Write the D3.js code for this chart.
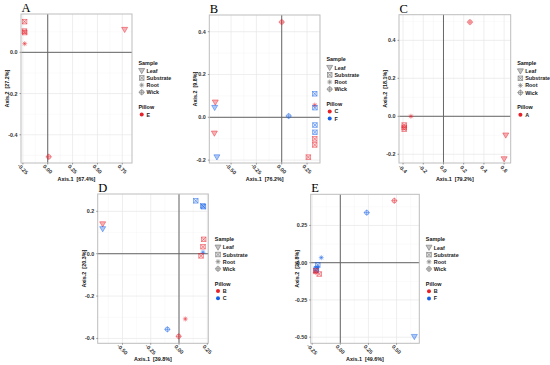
<!DOCTYPE html>
<html><head><meta charset="utf-8">
<script src="https://cdn.jsdelivr.net/npm/d3@7"></script>
<style>body{margin:0;background:#fff} text{font-family:"Liberation Sans",Arial,sans-serif}</style>
</head><body><svg id="c" width="550" height="365"></svg>
<script>
// ---------- DATA ----------
const sampleTypes = ["Leaf", "Substrate", "Root", "Wick"];

const pillowsA = ["E"];
const pointsA = [
  {s:"Substrate", p:"E", x:-0.233, y:0.149},
  {s:"Substrate", p:"E", x:-0.235, y:0.103},
  {s:"Substrate", p:"E", x:-0.232, y:0.096},
  {s:"Root",      p:"E", x:-0.232, y:0.042},
  {s:"Leaf",      p:"E", x:0.774,  y:0.110},
  {s:"Wick",      p:"E", x:0.010,  y:-0.507}
];
const pillowsB = ["C", "F"];
const pointsB = [
  {s:"Wick",      p:"C", x:0.000,  y:0.445},
  {s:"Substrate", p:"F", x:0.326,  y:0.110},
  {s:"Root",      p:"C", x:0.326,  y:0.057},
  {s:"Substrate", p:"F", x:0.328,  y:0.045},
  {s:"Wick",      p:"F", x:0.069,  y:0.006},
  {s:"Substrate", p:"F", x:0.328,  y:-0.036},
  {s:"Substrate", p:"F", x:0.328,  y:-0.070},
  {s:"Substrate", p:"C", x:0.326,  y:-0.101},
  {s:"Substrate", p:"C", x:0.326,  y:-0.129},
  {s:"Substrate", p:"C", x:0.263,  y:-0.186},
  {s:"Leaf",      p:"C", x:-0.656, y:0.070},
  {s:"Leaf",      p:"F", x:-0.662, y:0.045},
  {s:"Leaf",      p:"C", x:-0.665, y:-0.075},
  {s:"Leaf",      p:"F", x:-0.640, y:-0.186}
];
const pillowsC = ["A"];
const pointsC = [
  {s:"Wick",      p:"A", x:0.262,  y:0.496},
  {s:"Root",      p:"A", x:-0.322, y:0.000},
  {s:"Substrate", p:"A", x:-0.388, y:-0.046},
  {s:"Substrate", p:"A", x:-0.388, y:-0.058},
  {s:"Substrate", p:"A", x:-0.388, y:-0.068},
  {s:"Leaf",      p:"A", x:0.616,  y:-0.100},
  {s:"Leaf",      p:"A", x:0.600,  y:-0.225}
];
const pillowsD = ["B", "C"];
const pointsD = [
  {s:"Substrate", p:"C", x:0.148,  y:0.250},
  {s:"Substrate", p:"C", x:0.210,  y:0.226},
  {s:"Substrate", p:"C", x:0.216,  y:0.222},
  {s:"Leaf",      p:"B", x:-0.675, y:0.140},
  {s:"Leaf",      p:"C", x:-0.675, y:0.117},
  {s:"Substrate", p:"B", x:0.218,  y:0.068},
  {s:"Substrate", p:"B", x:0.212,  y:0.033},
  {s:"Root",      p:"C", x:0.212,  y:0.007},
  {s:"Substrate", p:"B", x:0.195,  y:-0.010},
  {s:"Root",      p:"B", x:0.056,  y:-0.308},
  {s:"Wick",      p:"C", x:-0.103, y:-0.357},
  {s:"Wick",      p:"B", x:-0.003, y:-0.390}
];
const pillowsE = ["B", "F"];
const pointsE = [
  {s:"Wick",      p:"B", x:0.480,  y:0.416},
  {s:"Wick",      p:"F", x:0.235,  y:0.336},
  {s:"Root",      p:"F", x:-0.169, y:0.034},
  {s:"Substrate", p:"B", x:-0.187, y:-0.076},
  {s:"Substrate", p:"F", x:-0.200, y:-0.015},
  {s:"Root",      p:"F", x:-0.205, y:-0.030},
  {s:"Substrate", p:"F", x:-0.212, y:-0.040},
  {s:"Substrate", p:"F", x:-0.215, y:-0.050},
  {s:"Substrate", p:"B", x:-0.218, y:-0.055},
  {s:"Root",      p:"B", x:-0.222, y:-0.065},
  {s:"Leaf",      p:"F", x:0.658,  y:-0.497}
];

const xTicksA = [-0.25, 0, 0.25, 0.5, 0.75], yTicksA = [-0.4, -0.2, 0.0];
const xTicksB = [-0.5, -0.25, 0, 0.25],      yTicksB = [-0.2, 0, 0.2, 0.4];
const xTicksC = [-0.4, -0.2, 0, 0.2, 0.4, 0.6], yTicksC = [-0.2, 0, 0.2, 0.4];
const xTicksD = [-0.5, -0.25, 0, 0.25],      yTicksD = [-0.4, -0.2, 0, 0.2];
const xTicksE = [-0.25, 0, 0.25, 0.5],       yTicksE = [-0.5, -0.25, 0, 0.25];

const axisTitles1 = ["Axis.1  [67.4%]", "Axis.1  [76.2%]", "Axis.1  [79.2%]", "Axis.1  [39.8%]", "Axis.1  [49.6%]"];
const axisTitles2 = ["Axis.2  [27.2%]", "Axis.2  [9.8%]", "Axis.2  [18.1%]", "Axis.2  [20.3%]", "Axis.2  [26.8%]"];
const panelLetters = ["A", "B", "C", "D", "E"];

// ---------- LAYOUT ----------
const layout = [
  {l:21,    t:14,    r:132,   b:163,   xd:[-0.269, 0.848], yd:[-0.537, 0.186], xf:2, yf:1},
  {l:209.3, t:15,    r:320,   b:163,   xd:[-0.715, 0.378], yd:[-0.2135, 0.478], xf:2, yf:1},
  {l:399,   t:14.7,  r:510.7, b:163,   xd:[-0.44, 0.665],  yd:[-0.246, 0.535], xf:1, yf:1},
  {l:97.7,  t:194,   r:208.3, b:343.3, xd:[-0.719, 0.259], yd:[-0.423, 0.282], xf:2, yf:1},
  {l:310.7, t:194.3, r:419.3, b:343.3, xd:[-0.263, 0.702], yd:[-0.541, 0.459], xf:2, yf:2}
];
const panels = [
  {pts:pointsA, pil:pillowsA, xt:xTicksA, yt:yTicksA},
  {pts:pointsB, pil:pillowsB, xt:xTicksB, yt:yTicksB},
  {pts:pointsC, pil:pillowsC, xt:xTicksC, yt:yTicksC},
  {pts:pointsD, pil:pillowsD, xt:xTicksD, yt:yTicksD},
  {pts:pointsE, pil:pillowsE, xt:xTicksE, yt:yTicksE}
];
const pillowPalette = ["#E8202A", "#1560E8"];
const FS = 5.4;

const svg = d3.select("#c");

function drawSymbol(g, type, color, fo, so) {
  const sw = 0.75;
  if (type === "Leaf") {
    g.append("path").attr("d", "M-3,-2.3L3,-2.3L0,2.9Z")
      .attr("fill", color).attr("fill-opacity", fo).attr("stroke", color).attr("stroke-opacity", so).attr("stroke-width", sw);
  } else if (type === "Substrate") {
    g.append("rect").attr("x", -2.3).attr("y", -2.3).attr("width", 4.6).attr("height", 4.6)
      .attr("fill", color).attr("fill-opacity", fo * 0.4).attr("stroke", color).attr("stroke-opacity", so).attr("stroke-width", sw);
    g.append("path").attr("d", "M-2.3,-2.3L2.3,2.3M2.3,-2.3L-2.3,2.3")
      .attr("stroke", color).attr("stroke-opacity", so).attr("stroke-width", sw).attr("fill", "none");
  } else if (type === "Root") {
    g.append("circle").attr("r", 1.9).attr("fill", color).attr("fill-opacity", fo * 0.6);
    g.append("path").attr("d", "M-2.6,0L2.6,0M0,-2.6L0,2.6M-1.85,-1.85L1.85,1.85M1.85,-1.85L-1.85,1.85")
      .attr("stroke", color).attr("stroke-opacity", so).attr("stroke-width", 0.6).attr("fill", "none");
  } else {
    g.append("circle").attr("r", 2.2).attr("fill", color).attr("fill-opacity", fo * 0.4)
      .attr("stroke", color).attr("stroke-opacity", so).attr("stroke-width", sw);
    g.append("path").attr("d", "M-3.1,0L3.1,0M0,-3.1L0,3.1")
      .attr("stroke", color).attr("stroke-opacity", so).attr("stroke-width", sw).attr("fill", "none");
  }
}

function minorTicks(ticks, dom) {
  const step = ticks[1] - ticks[0];
  const out = [];
  for (let i = -1; i < ticks.length; i++) {
    const v = ticks[0] + (i + 0.5) * step;
    if (v > dom[0] && v < dom[1]) out.push(v);
  }
  return out;
}

panels.forEach((P, i) => {
  const L = layout[i];
  const x = d3.scaleLinear().domain(L.xd).range([L.l, L.r]);
  const y = d3.scaleLinear().domain(L.yd).range([L.b, L.t]);
  const g = svg.append("g");

  // grid
  minorTicks(P.xt, L.xd).forEach(v => g.append("line").attr("x1", x(v)).attr("x2", x(v)).attr("y1", L.t).attr("y2", L.b).attr("stroke", "#F3F3F3").attr("stroke-width", 0.4));
  minorTicks(P.yt, L.yd).forEach(v => g.append("line").attr("y1", y(v)).attr("y2", y(v)).attr("x1", L.l).attr("x2", L.r).attr("stroke", "#F3F3F3").attr("stroke-width", 0.4));
  P.xt.forEach(v => g.append("line").attr("x1", x(v)).attr("x2", x(v)).attr("y1", L.t).attr("y2", L.b).attr("stroke", "#E6E6E6").attr("stroke-width", 0.7));
  P.yt.forEach(v => g.append("line").attr("y1", y(v)).attr("y2", y(v)).attr("x1", L.l).attr("x2", L.r).attr("stroke", "#E6E6E6").attr("stroke-width", 0.7));

  // zero lines
  g.append("line").attr("x1", x(0)).attr("x2", x(0)).attr("y1", L.t).attr("y2", L.b).attr("stroke", "#666").attr("stroke-width", 1);
  g.append("line").attr("y1", y(0)).attr("y2", y(0)).attr("x1", L.l).attr("x2", L.r).attr("stroke", "#666").attr("stroke-width", 1);

  // border
  g.append("rect").attr("x", L.l).attr("y", L.t).attr("width", L.r - L.l).attr("height", L.b - L.t)
    .attr("fill", "none").attr("stroke", "#BDBDBD").attr("stroke-width", 1);

  // ticks
  const fx = d3.format("." + L.xf + "f"), fy = d3.format("." + L.yf + "f");
  P.xt.forEach(v => {
    g.append("line").attr("x1", x(v)).attr("x2", x(v)).attr("y1", L.b).attr("y2", L.b + 1.5).attr("stroke", "#444").attr("stroke-width", 0.5);
    g.append("text").attr("transform", `translate(${x(v)},${L.b + 6})rotate(45)`)
      .attr("text-anchor", "middle").attr("dominant-baseline", "central")
      .attr("font-size", FS).attr("font-weight", "bold").attr("fill", "#333").text(fx(v).replace("\u2212", "-"));
  });
  P.yt.forEach(v => {
    g.append("line").attr("x1", L.l - 1.5).attr("x2", L.l).attr("y1", y(v)).attr("y2", y(v)).attr("stroke", "#444").attr("stroke-width", 0.5);
    g.append("text").attr("x", L.l - 3.5).attr("y", y(v)).attr("text-anchor", "end").attr("dominant-baseline", "central")
      .attr("font-size", FS).attr("font-weight", "bold").attr("fill", "#333").text(fy(v).replace("\u2212", "-"));
  });

  // axis titles
  g.append("text").attr("x", (L.l + L.r) / 2).attr("y", L.b + 16).attr("text-anchor", "middle").attr("dominant-baseline", "central")
    .attr("font-size", FS).attr("font-weight", "bold").attr("fill", "#111").attr("xml:space", "preserve").text(axisTitles1[i]);
  g.append("text").attr("transform", `translate(${L.l - 14},${(L.t + L.b) / 2})rotate(-90)`).attr("text-anchor", "middle").attr("dominant-baseline", "central")
    .attr("font-size", FS).attr("font-weight", "bold").attr("fill", "#111").attr("xml:space", "preserve").text(axisTitles2[i]);

  // panel letter
  g.append("text").attr("x", L.l + 0.5).attr("y", L.t - 2)
    .style("font-family", "'Liberation Serif',serif").attr("font-size", 12.5).attr("fill", "#000").text(panelLetters[i]);

  // points
  const col = d3.scaleOrdinal().domain(P.pil).range(pillowPalette);
  P.pts.forEach(d => {
    const pg = g.append("g").attr("transform", `translate(${x(d.x)},${y(d.y)})`);
    drawSymbol(pg, d.s, col(d.p), 0.35, 0.6);
  });

  // legend
  const lx = L.r + 6.5;
  const cy = (L.t + L.b) / 2;
  const ty = cy - 26 - (P.pil.length - 1) * 3.6;
  g.append("text").attr("x", lx).attr("y", ty).attr("dominant-baseline", "central")
    .attr("font-size", FS).attr("font-weight", "bold").attr("fill", "#111").text("Sample");
  sampleTypes.forEach((s, k) => {
    const yy = ty + 8.3 + k * 7.15;
    const sg = g.append("g").attr("transform", `translate(${lx + 3.2},${yy})`);
    drawSymbol(sg, s, "#7A7A7A", 0.45, 0.85);
    g.append("text").attr("x", lx + 8).attr("y", yy).attr("dominant-baseline", "central")
      .attr("font-size", FS).attr("font-weight", "bold").attr("fill", "#222").text(s);
  });
  const py = ty + 44.5;
  g.append("text").attr("x", lx).attr("y", py).attr("dominant-baseline", "central")
    .attr("font-size", FS).attr("font-weight", "bold").attr("fill", "#111").text("Pillow");
  P.pil.forEach((p, k) => {
    const yy = py + 7.5 + k * 7.2;
    g.append("circle").attr("cx", lx + 3.2).attr("cy", yy).attr("r", 2).attr("fill", col(p));
    g.append("text").attr("x", lx + 8).attr("y", yy).attr("dominant-baseline", "central")
      .attr("font-size", FS).attr("font-weight", "bold").attr("fill", "#222").text(p);
  });
});
</script></body></html>
